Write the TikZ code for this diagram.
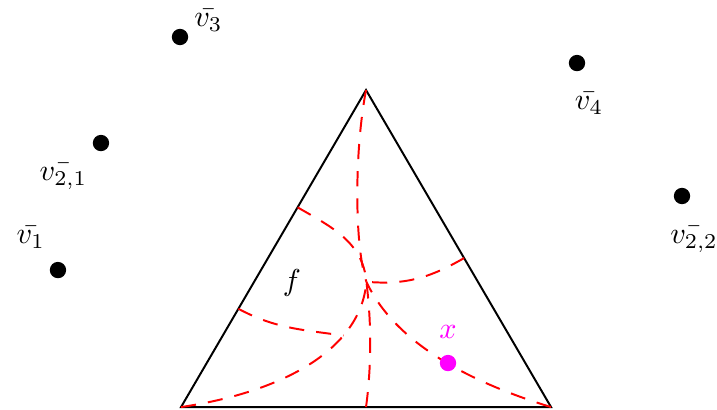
\documentclass[tikz,border=0pt]{standalone}
\usepackage{amsmath}
\usepackage{xcolor}
\usetikzlibrary{positioning,calc}
\definecolor{pinkdot}{RGB}{255,0,255}

\begin{document}
\begin{tikzpicture}[
  dot/.style={circle,fill=black,inner sep=0pt,minimum size=1.9mm},
  pick/.style={circle,fill=pinkdot,inner sep=0pt,minimum size=1.9mm},
  side/.style={draw=black,line width=0.65pt},
  cut/.style={draw=red,line width=0.65pt,dash pattern=on 5pt off 4pt}
]

\useasboundingbox (0,0) rectangle (8.337,4.756);

% Triangle
\coordinate (bl) at (2.105,0.023);
\coordinate (br) at (6.407,0.023);
\coordinate (top) at (4.256,3.709);
\coordinate (c) at (4.26,1.48);
\coordinate (lo) at ($(bl)!0.31!(top)$);
\coordinate (hi) at ($(bl)!0.63!(top)$);
\coordinate (rm) at ($(br)!0.47!(top)$);
\coordinate (bm) at ($(bl)!0.5!(br)$);

\draw[side] (bl) -- (br) -- (top) -- cycle;

% Dashed cuts
\draw[cut] (top) .. controls (4.12,3.0) and (4.12,1.9) .. (c);
\draw[cut] (bm) .. controls (4.32,0.5) and (4.32,1.0) .. (c);
\draw[cut] (hi) to[out=-30,in=95] (c);
\draw[cut] (rm) to[out=210,in=-5] (c);
\draw[cut] (bl) .. controls (3.3,0.2) and (4.2,0.7) .. coordinate[pos=0.7] (p) (c);
\draw[cut] (lo) to[out=-28,in=172] (p);
\draw[cut] (br) .. controls (5.5,0.3) and (4.6,0.75) .. (c);

% Points
\node[dot] (v3) at (2.093,4.326) {};
\node[dot] (v4) at (6.709,4.023) {};
\node[dot] (v21) at (1.174,3.093) {};
\node[dot] (v22) at (7.930,2.477) {};
\node[dot] (v1) at (0.674,1.616) {};
\node[pick] (x) at (5.209,0.535) {};

% Labels
\node[above right=-1.3mm and -0.3mm of v3] (v3lab) {$\bar{v_3}$};
\node[below=1.2mm of v4,xshift=1.4mm] (v4lab) {$\bar{v_4}$};
\node[below left=0.45mm and -0.35mm of v21] (v21lab) {$\bar{v_{2,1}}$};
\node[below=1.3mm of v22,xshift=1.4mm] (v22lab) {$\bar{v_{2,2}}$};
\node[above left=0.6mm and -0.45mm of v1] (v1lab) {$\bar{v_1}$};
\node[text=pinkdot,above=0.6mm of x] (xlab) {$x$};
\node (f) at (3.395,1.465) {$f$};

\end{tikzpicture}
\end{document}
